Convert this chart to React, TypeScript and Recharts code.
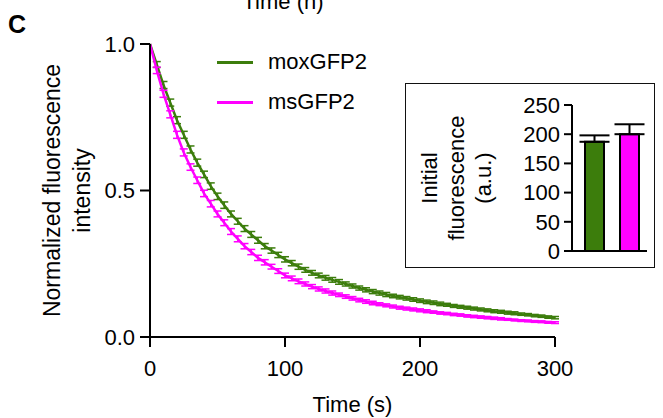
import React from 'react';
import { LineChart, Line, XAxis, YAxis, ErrorBar, Legend, Label, BarChart, Bar, Cell } from 'recharts';

const FONT = '"Liberation Sans", Arial, Helvetica, sans-serif';
const GREEN = '#3c7d0c';
const MAGENTA = '#ff00ff';

// bleaching time course, seconds
const times = [
  0, 5, 10, 15, 20, 25, 30, 35, 40, 45, 50, 55, 60, 65, 70, 75, 80, 85, 90, 95, 100,
  105, 110, 115, 120, 125, 130, 135, 140, 145, 150, 155, 160, 165, 170, 175, 180, 185, 190, 195, 200,
  205, 210, 215, 220, 225, 230, 235, 240, 245, 250, 255, 260, 265, 270, 275, 280, 285, 290, 295, 300,
];

const moxValues = [
  1.0, 0.93, 0.86, 0.8, 0.74, 0.69, 0.64, 0.595, 0.555, 0.515, 0.48, 0.45, 0.42, 0.395, 0.37, 0.35, 0.33, 0.31, 0.295, 0.28, 0.265,
  0.252, 0.24, 0.229, 0.219, 0.21, 0.202, 0.195, 0.188, 0.181, 0.174, 0.167, 0.161, 0.155, 0.15, 0.145, 0.14, 0.136, 0.132, 0.128, 0.124,
  0.12, 0.117, 0.113, 0.11, 0.106, 0.103, 0.1, 0.097, 0.094, 0.091, 0.088, 0.086, 0.083, 0.081, 0.078, 0.076, 0.073, 0.071, 0.068, 0.066,
];

const msValues = [
  1.0, 0.91, 0.83, 0.76, 0.69, 0.63, 0.58, 0.535, 0.49, 0.455, 0.42, 0.39, 0.36, 0.335, 0.31, 0.29, 0.27, 0.255, 0.24, 0.225, 0.21,
  0.2, 0.19, 0.181, 0.172, 0.164, 0.157, 0.15, 0.144, 0.138, 0.132, 0.126, 0.121, 0.116, 0.112, 0.108, 0.104, 0.1, 0.097, 0.094, 0.091,
  0.088, 0.085, 0.082, 0.08, 0.077, 0.075, 0.072, 0.07, 0.068, 0.066, 0.064, 0.062, 0.06, 0.058, 0.056, 0.055, 0.053, 0.052, 0.05, 0.049,
];

const moxErr = [
  0, 0.01, 0.012, 0.012, 0.012, 0.012, 0.012, 0.012, 0.011, 0.011, 0.011, 0.011, 0.01, 0.01, 0.01, 0.01, 0.01, 0.009, 0.009, 0.009, 0.009,
  0.009, 0.009, 0.008, 0.008, 0.008, 0.008, 0.008, 0.008, 0.007, 0.007, 0.007, 0.007, 0.007, 0.007, 0.007, 0.006, 0.006, 0.006, 0.006, 0.006,
  0.006, 0.006, 0.006, 0.005, 0.005, 0.005, 0.005, 0.005, 0.005, 0.005, 0.005, 0.005, 0.005, 0.005, 0.004, 0.004, 0.004, 0.004, 0.004, 0.004,
];

const msErr = [
  0, 0.011, 0.012, 0.012, 0.012, 0.012, 0.011, 0.011, 0.011, 0.011, 0.01, 0.01, 0.01, 0.01, 0.009, 0.009, 0.009, 0.009, 0.008, 0.008, 0.008,
  0.008, 0.008, 0.007, 0.007, 0.007, 0.007, 0.007, 0.006, 0.006, 0.006, 0.006, 0.006, 0.006, 0.005, 0.005, 0.005, 0.005, 0.005, 0.005, 0.005,
  0.005, 0.004, 0.004, 0.004, 0.004, 0.004, 0.004, 0.004, 0.004, 0.004, 0.004, 0.004, 0.003, 0.003, 0.003, 0.003, 0.003, 0.003, 0.003, 0.003,
];

// inset: initial fluorescence (a.u.)
const proteins = ['moxGFP2', 'msGFP2'];
const initialMeans = [187, 200];
const initialErr = [11, 17];
const barColors = [GREEN, MAGENTA];

const curveRows = times.map((t, i) => ({
  t,
  mox: moxValues[i],
  moxErr: moxErr[i],
  ms: msValues[i],
  msErr: msErr[i],
}));

const barRows = proteins.map((name, i) => ({
  name,
  value: initialMeans[i],
  err: [0, initialErr[i]],
}));

const textStyle = { fill: '#000', fontSize: 22, fontFamily: FONT };

const MainYLabel = (props: any) => {
  const { x, y, height } = props.viewBox;
  const cy = y + height / 2;
  const x1 = x - 38;
  const x2 = x - 8;
  return (
    <g>
      <text x={x1} y={cy} transform={`rotate(-90 ${x1} ${cy})`} textAnchor="middle" dominantBaseline="central" {...textStyle} fontSize={23}>
        Normalized fluorescence
      </text>
      <text x={x2} y={cy} transform={`rotate(-90 ${x2} ${cy})`} textAnchor="middle" dominantBaseline="central" {...textStyle} fontSize={23}>
        intensity
      </text>
    </g>
  );
};

const TimeLabel = (props: any) => {
  const { x, y, width, height } = props.viewBox;
  return (
    <text x={x + width / 2} y={y + height - 1} textAnchor="middle" {...textStyle}>
      Time (s)
    </text>
  );
};

const InsetYLabel = (props: any) => {
  const { x, y, height } = props.viewBox;
  const cy = y + height / 2;
  const lines = ['Initial', 'fluorescence', '(a.u.)'];
  return (
    <g>
      {lines.map((s, i) => {
        const lx = x - 103 + i * 27;
        return (
          <text key={s} x={lx} y={cy} transform={`rotate(-90 ${lx} ${cy})`} textAnchor="middle" dominantBaseline="central" {...textStyle}>
            {s}
          </text>
        );
      })}
    </g>
  );
};

const CurveLegend = (props: any) => (
  <div style={{ fontFamily: FONT, fontSize: 22 }}>
    {props.payload.map((p: any) => (
      <div key={p.value} style={{ display: 'flex', alignItems: 'center', height: 40 }}>
        <div style={{ width: 36, height: 3, background: p.color, marginRight: 15 }} />
        <span style={{ color: '#000' }}>{p.value}</span>
      </div>
    ))}
  </div>
);

export default function App() {
  const axisLine = { stroke: '#000', strokeWidth: 2 };
  return (
    <div style={{ position: 'absolute', left: 0, top: 0, width: 663, height: 418, background: '#fff', overflow: 'hidden' }}>
      <svg width={663} height={418} style={{ position: 'absolute', left: 0, top: 0 }}>
        <text x={283} y={9} textAnchor="middle" {...textStyle}>Time (h)</text>
        <text x={8} y={33} fontSize={25} fontWeight="bold" fontFamily={FONT} fill="#000">C</text>
      </svg>

      <div style={{ position: 'absolute', left: 0, top: 0 }}>
        <LineChart width={663} height={418} data={curveRows} margin={{ top: 44, right: 108, bottom: 5, left: 90 }}>
          <XAxis
            dataKey="t"
            type="number"
            domain={[0, 300]}
            ticks={[0, 100, 200, 300]}
            interval={0}
            height={76}
            tickSize={10}
            tickMargin={13}
            tick={textStyle}
            axisLine={axisLine}
            tickLine={axisLine}
          >
            <Label content={TimeLabel} />
          </XAxis>
          <YAxis
            type="number"
            domain={[0, 1]}
            ticks={[0, 0.5, 1]}
            interval={0}
            tickFormatter={(v: number) => v.toFixed(1)}
            width={60}
            tickSize={10}
            tickMargin={5}
            tick={textStyle}
            axisLine={axisLine}
            tickLine={axisLine}
          >
            <Label content={MainYLabel} />
          </YAxis>
          <Legend
            layout="vertical"
            align="center"
            verticalAlign="middle"
            content={CurveLegend}
            wrapperStyle={{ position: 'absolute', left: 217, top: 42, width: 200 }}
          />
          <Line dataKey="mox" name="moxGFP2" type="linear" stroke={GREEN} strokeWidth={2.5} dot={false} isAnimationActive={false}>
            <ErrorBar dataKey="moxErr" width={4} stroke={GREEN} strokeWidth={1.5} direction="y" />
          </Line>
          <Line dataKey="ms" name="msGFP2" type="linear" stroke={MAGENTA} strokeWidth={2.5} dot={false} isAnimationActive={false}>
            <ErrorBar dataKey="msErr" width={4} stroke={MAGENTA} strokeWidth={1.5} direction="y" />
          </Line>
        </LineChart>
      </div>

      <div
        style={{
          position: 'absolute',
          left: 405,
          top: 83,
          width: 250,
          height: 185,
          border: '1.5px solid #111',
          boxSizing: 'border-box',
          background: '#fff',
        }}
      />
      <div style={{ position: 'absolute', left: 405, top: 83 }}>
        <BarChart width={250} height={185} data={barRows} margin={{ top: 22, right: 8, bottom: 15, left: 127 }} barSize={19}>
          <XAxis dataKey="name" tick={false} tickLine={false} height={2} axisLine={axisLine} padding={{ left: 5, right: 0 }} />
          <YAxis
            type="number"
            domain={[0, 250]}
            ticks={[0, 50, 100, 150, 200, 250]}
            interval={0}
            width={40}
            tickSize={8}
            tickMargin={4}
            tick={textStyle}
            axisLine={axisLine}
            tickLine={axisLine}
          >
            <Label content={InsetYLabel} />
          </YAxis>
          <Bar dataKey="value" stroke="#000" strokeWidth={2} isAnimationActive={false}>
            {barRows.map((r, i) => (
              <Cell key={r.name} fill={barColors[i]} />
            ))}
            <ErrorBar dataKey="err" width={15} stroke="#000" strokeWidth={2} direction="y" />
          </Bar>
        </BarChart>
      </div>
    </div>
  );
}
